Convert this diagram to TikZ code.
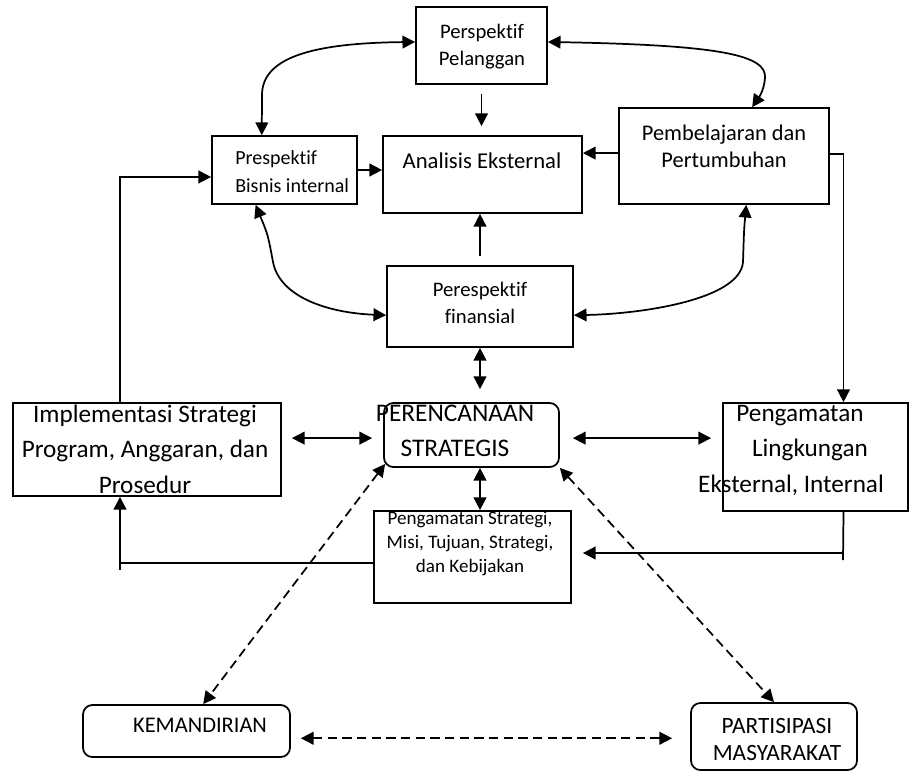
\documentclass[tikz,border=0pt]{standalone}
\usepackage{fontspec}
\setmainfont{Carlito}[Ligatures=NoCommon]
\usetikzlibrary{arrows.meta,calc,fit}
\newcommand\setfs[2]{\fontsize{#1}{#2}\selectfont}
\begin{document}
\begin{tikzpicture}[x=0.75pt,y=-0.75pt,
  box/.style={draw, line width=1.3pt, inner sep=0pt},
  rbox/.style={box, rounded corners=7pt},
  conn/.style={line width=1.3pt},
  arr/.style={conn, -{Triangle[length=9.5pt,width=9.5pt]}},
  dbl/.style={conn, {Triangle[length=9.5pt,width=9.5pt]}-{Triangle[length=9.5pt,width=9.5pt]}},
  dsh/.style={dash pattern=on 7pt off 4pt},
  lbl/.style={inner sep=0pt, align=center, anchor=base},
]
\fill[white] (0,0) rectangle (909,771);
\useasboundingbox (0,0) rectangle (909,771);

% boxes
\node[box, fit={(416,7) (547,84)}] (pel) {};
\node[box, fit={(212,136) (357,204)}] (bis) {};
\node[box, fit={(383,136) (582,213)}] (ana) {};
\node[box, fit={(619,108) (829,204)}] (emb) {};
\node[box, fit={(387,266) (573,347)}] (fin) {};
\node[box, fit={(13,403) (281,496)}] (imp) {};
\node[rbox, fit={(384,403) (559,467)}] (per) {};
\node[box, fit={(723,403) (908,511)}] (lin) {};
\node[box, fit={(374,511) (571,603)}] (str) {};
\node[rbox, fit={(83,705) (290,757)}] (kem) {};
\node[rbox, fit={(691,703) (857,770)}] (par) {};

% texts (multi-line texts are placed by the baseline of their last line)
\node[lbl, font=\setfs{15.5}{20.25}] (pel-t) at (482,65) {Perspektif\\Pelanggan};
\node[lbl, anchor=base west, align=left, font=\setfs{15}{21}] (bis-t) at (235,192) {Prespektif\\Bisnis internal};
\node[lbl, font=\setfs{17}{20}] (ana-t) at (482,168) {Analisis Eksternal};
\node[lbl, font=\setfs{16.8}{20.25}] (emb-t) at (724,167) {Pembelajaran dan\\Pertumbuhan};
\node[lbl, font=\setfs{15.5}{20.25}] (fin-t) at (480,323) {Perespektif\\finansial};
\node[lbl, font=\setfs{18.9}{26.6}] (imp-t) at (145,493) {Implementasi Strategi\\Program, Anggaran, dan\\Prosedur};
\node[lbl, font=\setfs{19}{26.25}] (per-t) at (455,456) {PERENCANAAN\\STRATEGIS};
\node[lbl, font=\setfs{18.9}{26.6}] (lin-t) at (800,492) {Pengamatan\\\hspace*{15pt}Lingkungan\\Eksternal, Internal\hspace*{13.5pt}};
\node[lbl, font=\setfs{14.3}{18}] (str-t) at (470,572) {Pengamatan Strategi,\\Misi, Tujuan, Strategi,\\dan Kebijakan};
\node[lbl, font=\setfs{16.8}{20}] (kem-t) at (200,732) {KEMANDIRIAN};
\node[lbl, font=\setfs{17.5}{20.25}] (par-t) at (777,760) {PARTISIPASI\\MASYARAKAT};

% curved links between the perspectives
\draw[dbl] ($(bis.north west)!0.345!(bis.north east)$) -- (262,95)
  .. controls (262,55) and (320,43) .. ($(pel.north west)!0.455!(pel.south west)$);
\draw[dbl] ($(pel.north east)!0.455!(pel.south east)$) .. controls (720,45) and (767,55) .. (765,78)
  .. controls (764,92) and (757,100) .. ($(emb.north west)!0.633!(emb.north east)$);
\draw[dbl] ($(bis.south west)!0.303!(bis.south east)$) .. controls (268,235) .. (273,262)
  .. controls (280,298) and (330,313) .. ($(fin.north west)!0.605!(fin.south west)$);
\draw[dbl] ($(emb.south west)!0.605!(emb.south east)$) .. controls (744,230) .. (743,262)
  .. controls (740,300) and (640,314) .. ($(fin.north east)!0.605!(fin.south east)$);

% straight links
\draw[arr, shorten <=6.75pt, shorten >=6.75pt] (pel.south) -- (pel.south |- ana.north);
\draw[arr] (bis.east) -- (bis.east -| ana.west);
\draw[arr] ($(emb.north west)!0.47!(emb.south west)$) coordinate (e1) -- (e1 -| ana.east);
\draw[arr, shorten <=6.75pt] (fin.north) -- (fin.north |- ana.south);
\draw[dbl, shorten >=9.75pt] (fin.south) -- (fin.south |- per.north);
\draw[arr] ($(imp.north west)!0.4!(imp.north east)$) |- ($(bis.north west)!0.6!(bis.south west)$);
\coordinate (pw) at ($(per.north west)!0.547!(per.south west)$);
\draw[dbl, shorten <=7.5pt, shorten >=8.25pt] (pw -| imp.east) -- (pw);
\draw[dbl, shorten <=9.75pt, shorten >=8.25pt] ($(per.north east)!0.547!(per.south east)$) coordinate (pe) -- (pe -| lin.west);
\draw[arr] ($(emb.north east)!0.479!(emb.south east)$) -| ($(lin.north west)!0.65!(lin.north east)$);
\draw[dbl] (per.south -| fin.south) -- (str.north -| fin.south);

% feedback lines below
\coordinate (rb) at (843,560);
\coordinate (ry) at (843,553);
\draw[conn] ($(lin.south west)!0.65!(lin.south east)$) -- (rb);
\draw[arr, shorten >=8.25pt] (ry) -- (ry -| str.east);
\coordinate (lb) at (120,570);
\coordinate (ly) at (120,563);
\draw[arr] (lb) -- (lb |- imp.south);
\draw[conn] (ly -| str.west) -- (ly);

% dashed links
\draw[dbl, dsh] ($(per.south west)+(2,-4)$) -- ($(kem.north west)!0.58!(kem.north east)$);
\draw[dbl, dsh] (per.south east) -- (par.north);
\draw[dbl, dsh, shorten <=7.5pt, shorten >=13.5pt] ($(kem.north east)!0.635!(kem.south east)$) coordinate (ke) -- (ke -| par.west);
\end{tikzpicture}
\end{document}
